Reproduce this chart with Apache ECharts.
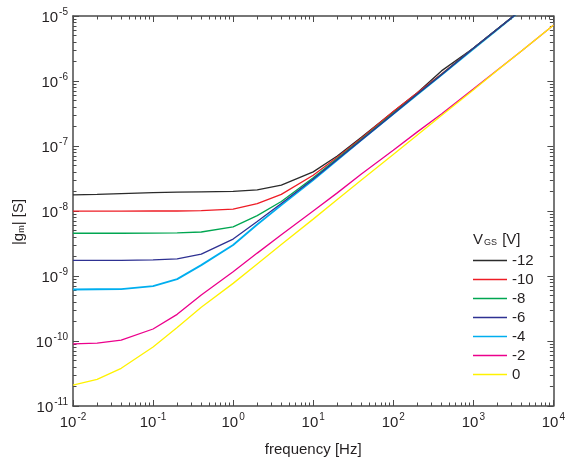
<!DOCTYPE html>
<html>
<head>
<meta charset="utf-8">
<script src="https://cdn.jsdelivr.net/npm/echarts@6/dist/echarts.min.js"></script>
<style>
html,body{margin:0;padding:0;background:#fff;}
#c{width:568px;height:463px;}
</style>
</head>
<body>
<div id="c"></div>
<script>
// ---- data ----
var freq = [0.01,0.02,0.04,0.1,0.2,0.4,1,2,4,10,20,40,100,200,400,1000,2000,4000,10000];
var seriesNames = ['-12','-10','-8','-6','-4','-2','0'];
var vgs_m12 = [1.77e-8,1.80e-8,1.85e-8,1.92e-8,1.95e-8,1.97e-8,2.0e-8,2.12e-8,2.5e-8,4.0e-8,7.0e-8,1.36e-7,3.35e-7,6.6e-7,1.43e-6,3.2e-6,6.3e-6,1.25e-5,3.1e-5];
var vgs_m10 = [9.95e-9,9.95e-9,9.95e-9,1.0e-8,1.0e-8,1.01e-8,1.07e-8,1.3e-8,1.8e-8,3.55e-8,6.7e-8,1.32e-7,3.4e-7,6.6e-7,1.28e-6,3.2e-6,6.3e-6,1.25e-5,3.1e-5];
var vgs_m8  = [4.55e-9,4.55e-9,4.55e-9,4.58e-9,4.62e-9,4.75e-9,5.7e-9,8.5e-9,1.4e-8,3.25e-8,6.4e-8,1.27e-7,3.2e-7,6.3e-7,1.26e-6,3.2e-6,6.3e-6,1.25e-5,3.1e-5];
var vgs_m6  = [1.74e-9,1.74e-9,1.74e-9,1.77e-9,1.84e-9,2.17e-9,3.7e-9,6.9e-9,1.3e-8,3.1e-8,6.2e-8,1.24e-7,3.12e-7,6.3e-7,1.25e-6,3.2e-6,6.3e-6,1.25e-5,3.1e-5];
var vgs_m4  = [6.2e-10,6.25e-10,6.3e-10,7.0e-10,8.95e-10,1.47e-9,3.0e-9,6.2e-9,1.23e-8,3.0e-8,6.1e-8,1.23e-7,3.1e-7,6.2e-7,1.24e-6,3.1e-6,6.2e-6,1.24e-5,3.1e-5];
var vgs_m2  = [9.0e-11,9.3e-11,1.03e-10,1.53e-10,2.57e-10,5.1e-10,1.16e-9,2.25e-9,4.3e-9,1.0e-8,1.9e-8,3.7e-8,8.6e-8,1.65e-7,3.1e-7,7.5e-7,1.48e-6,2.9e-6,7.2e-6];
var vgs_0   = [2.1e-11,2.57e-11,3.8e-11,8.1e-11,1.62e-10,3.3e-10,7.7e-10,1.53e-9,3.05e-9,7.5e-9,1.5e-8,3.0e-8,7.4e-8,1.48e-7,2.95e-7,7.3e-7,1.46e-6,2.9e-6,7.2e-6];
var xMajor = [0.01,0.1,1,10,100,1000,10000];
var yMajor = [1e-11,1e-10,1e-9,1e-8,1e-7,1e-6,1e-5];

// ---- build ----
var allData = [vgs_m12,vgs_m10,vgs_m8,vgs_m6,vgs_m4,vgs_m2,vgs_0];
var colors = ['#2b2b2b','#ee1c25','#00a651','#2e3192','#00aeef','#ec008c','#fff200'];
function minorVals(e0,e1){var r=[];for(var e=e0;e<e1;e++){for(var k=2;k<=9;k++){r.push(+(k*Math.pow(10,e)).toPrecision(3));}}return r;}
var xMinor = minorVals(-2,4);
var yMinor = minorVals(-11,-5);
var FONT = 'Liberation Sans, Arial, sans-serif';
var TXT = '#231f20';
var AX = '#4a4a4a';
function expFmt(v){var e=Math.round(Math.log10(v));return '{b|10}{s|'+e+'}';}
var rich = {
  b:{fontSize:15,fontFamily:FONT,color:TXT,lineHeight:18,verticalAlign:'bottom'},
  s:{fontSize:10,fontFamily:FONT,color:TXT,lineHeight:18,verticalAlign:'top',padding:[0,0,0,1]}
};
function mkAxis(kind,pos,major,showLabel,ticks,len,line){
  return {
    type:'log', logBase:10, position:pos, gridIndex:0,
    min: kind==='x'?0.01:1e-11, max: kind==='x'?10000:1e-5,
    splitLine:{show:false},
    axisLine:{show:line,lineStyle:{color:AX,width:1.5}},
    axisTick:{show:true,inside:true,length:len,customValues:ticks,lineStyle:{color:AX,width:1}},
    axisLabel:{show:showLabel,customValues:major,formatter:expFmt,rich:rich,margin:6},
    minorTick:{show:false}
  };
}
var xAxes = [
  mkAxis('x','bottom',xMajor,true,xMajor,6,true),
  mkAxis('x','bottom',xMajor,false,xMinor,3.5,false),
  mkAxis('x','top',xMajor,false,xMajor,6,true),
  mkAxis('x','top',xMajor,false,xMinor,3.5,false)
];
xAxes[0].name = 'frequency [Hz]';
xAxes[0].nameLocation = 'middle';
xAxes[0].nameGap = 36;
xAxes[0].nameTextStyle = {fontSize:15,fontFamily:FONT,color:TXT};
var yAxes = [
  mkAxis('y','left',yMajor,true,yMajor,6,true),
  mkAxis('y','left',yMajor,false,yMinor,3.5,false),
  mkAxis('y','right',yMajor,false,yMajor,6,true),
  mkAxis('y','right',yMajor,false,yMinor,3.5,false)
];
yAxes[0].axisLabel.margin = 5;

var series = seriesNames.map(function(n,i){
  return {
    name:n, type:'line', xAxisIndex:0, yAxisIndex:0,
    data: freq.map(function(f,j){return [f, allData[i][j]];}),
    symbol:'none', smooth:false, clip:true,
    z: i===4 ? 2 : 3,
    lineStyle:{color:colors[i], width: i===4 ? 1.8 : 1.3},
    itemStyle:{color:colors[i]},
    emphasis:{disabled:true}
  };
});

var chart = echarts.init(document.getElementById('c'),null,{renderer:'canvas'});
chart.setOption({
  animation:false,
  backgroundColor:'#fff',
  grid:{left:73,right:11,top:16,bottom:57,containLabel:false},
  xAxis:xAxes,
  yAxis:yAxes,
  legend:{
    data:seriesNames, orient:'vertical', left:473, top:253, padding:0,
    icon:'rect', itemWidth:34, itemHeight:1.5, itemGap:4,
    textStyle:{fontSize:15,fontFamily:FONT,color:TXT,lineHeight:14},
    selectedMode:false
  },
  graphic:[
    {type:'text', left:473, top:232, style:{
      text:'{v|V}{g|GS}{v| [V]}',
      rich:{v:{fontSize:15,fontFamily:FONT,fill:TXT,lineHeight:18,verticalAlign:'bottom'},
            g:{fontSize:9,fontFamily:FONT,fill:TXT,lineHeight:18,verticalAlign:'bottom',padding:[0,1,0,1]}}
    }},
    {type:'text', x:17, y:222, rotation:Math.PI/2, style:{
      text:'{v||g}{m|m}{v|| [S]}', align:'center', verticalAlign:'middle',
      rich:{v:{fontSize:15,fontFamily:FONT,fill:TXT,lineHeight:18,verticalAlign:'bottom'},
            m:{fontSize:9,fontFamily:FONT,fill:TXT,lineHeight:18,verticalAlign:'bottom'}}
    }}
  ],
  series:series
});
</script>
</body>
</html>
